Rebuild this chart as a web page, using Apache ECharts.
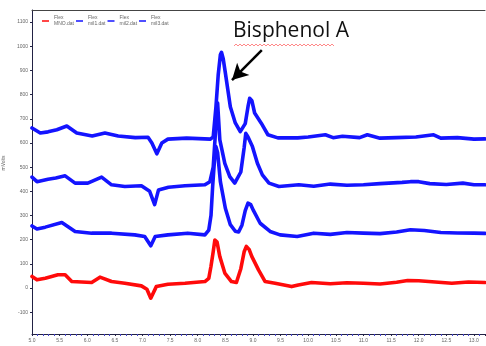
<!DOCTYPE html>
<html><head><meta charset="utf-8">
<script src="https://cdn.jsdelivr.net/npm/echarts@6/dist/echarts.min.js"></script>
<style>html,body{margin:0;padding:0;background:#fff}#c{width:486px;height:346px}</style>
</head><body><div id="c"></div>
<script>
// ---- data (minutes, mVolts) ----
const seriesNames = ['MNO.dat', 'mil1.dat', 'mil2.dat', 'mil3.dat'];
const yTickValues = [-100, 0, 100, 200, 300, 400, 500, 600, 700, 800, 900, 1000, 1100];

// red trace
const xRed = [5.00,5.09,5.24,5.47,5.60,5.72,6.08,6.23,6.44,6.68,6.98,7.08,7.15,7.25,7.46,7.77,8.13,8.20,8.24,8.28,8.31,8.35,8.40,8.49,8.61,8.70,8.78,8.84,8.88,8.93,8.98,9.10,9.22,9.40,9.70,9.82,10.06,10.4,10.7,11.0,11.3,11.6,11.8,12.0,12.3,12.6,12.9,13.2];
const yRed = [48,34,41,55,55,27,23,45,27,20,9,-5,-42,6,16,20,27,40,90,150,199,190,130,62,27,23,80,150,172,160,130,75,27,20,6,13,23,18,22,20,17,24,31,30,25,20,25,23];

// lowest blue trace
const xBlue1 = [5.00,5.09,5.24,5.54,5.78,6.08,6.44,6.86,7.04,7.15,7.23,7.46,7.82,8.13,8.20,8.24,8.27,8.31,8.33,8.36,8.41,8.50,8.59,8.68,8.74,8.80,8.86,8.91,8.96,9.01,9.13,9.31,9.49,9.8,10.1,10.4,10.7,11.0,11.3,11.6,11.85,12.1,12.4,12.7,13.0,13.2];
const yBlue1 = [257,244,252,271,234,227,227,220,213,175,213,220,227,220,240,300,420,550,585,560,440,330,262,235,232,260,320,351,345,320,268,234,220,213,227,222,230,227,225,232,241,238,230,228,227,226];

// middle blue trace
const xBlue2 = [5.00,5.09,5.29,5.43,5.60,5.78,6.01,6.26,6.44,6.68,6.98,7.13,7.22,7.29,7.47,7.77,8.13,8.22,8.28,8.32,8.34,8.36,8.40,8.49,8.58,8.67,8.70,8.78,8.84,8.87,8.91,8.99,9.08,9.17,9.29,9.47,9.83,10.1,10.4,10.7,11.0,11.3,11.7,11.85,12.0,12.2,12.5,12.8,13.0,13.2];
const yBlue2 = [459,440,450,455,464,434,434,459,427,420,423,400,345,406,417,423,427,440,500,640,740,765,613,516,461,434,431,480,580,640,625,585,516,468,434,420,427,421,430,425,427,432,437,440,440,432,428,434,427,427];

// top blue trace
const xBlue3 = [5.00,5.15,5.29,5.45,5.63,5.81,6.09,6.32,6.56,6.87,7.10,7.17,7.26,7.35,7.46,7.80,8.23,8.28,8.33,8.37,8.41,8.43,8.46,8.50,8.59,8.68,8.77,8.80,8.86,8.91,8.94,8.98,9.03,9.15,9.27,9.45,9.81,10.0,10.31,10.45,10.62,10.93,11.07,11.3,11.6,11.95,12.27,12.4,12.7,13.0,13.2];
const yBlue3 = [662,641,646,655,670,641,629,641,629,622,624,600,555,600,616,620,616,625,750,880,965,975,950,890,750,683,647,640,680,750,785,775,724,682,634,621,621,625,634,622,628,622,634,620,622,625,634,620,622,616,617];

const pairs = (xs, ys) => xs.map((x, i) => [x, ys[i]]);

const chart = echarts.init(document.getElementById('c'), null, {renderer: 'canvas'});
const blue = '#1414ff', red = '#ff0a0a';
const lineSeries = (name, data, color, extra) => Object.assign({
  name, type: 'line', data, symbol: 'none', smooth: false,
  lineStyle: {width: 3.6, color, join: 'round', cap: 'round'}, itemStyle: {color}, z: 3
}, extra || {});

// squiggle under "Bisphenol"
const sq = [];
for (let i = 0; i <= 50; i++) sq.push([234 + i * 2, 45 + (i % 2 ? -1 : 1)]);

chart.setOption({
  animation: false,
  backgroundColor: '#fff',
  grid: {left: 32, top: 10, width: 453, height: 324, containLabel: false, outerBoundsMode: 'none'},
  legend: {
    left: 37, top: 10, itemWidth: 7, itemHeight: 1.5, itemGap: 2, icon: 'rect',
    data: seriesNames,
    formatter: n => 'Flex\n' + n,
    textStyle: {fontSize: 5, lineHeight: 6, color: '#666', width: 17, fontFamily: 'Liberation Sans'}
  },
  xAxis: [{
    type: 'value', min: 5, max: 13.2, interval: 0.5,
    name: 'Minutes', nameLocation: 'middle', nameGap: 9,
    nameTextStyle: {fontSize: 5, color: '#666', fontFamily: 'Liberation Sans'},
    axisLine: {onZero: false, lineStyle: {color: '#222244', width: 1}},
    axisTick: {show: true, length: 2, lineStyle: {color: '#222244'}},
    minorTick: {show: true, splitNumber: 5, length: 2, lineStyle: {color: '#4444cc'}},
    axisLabel: {fontSize: 5, color: '#666', margin: 4, fontFamily: 'Liberation Sans',
      formatter: v => v.toFixed(1), showMaxLabel: false},
    splitLine: {show: false}
  }, {
    type: 'value', position: 'top', min: 5, max: 13.2,
    axisLine: {show: true, onZero: false, lineStyle: {color: '#444', width: 1}},
    axisTick: {show: false}, axisLabel: {show: false}, splitLine: {show: false}
  }],
  yAxis: {
    type: 'value', min: -190, max: 1150,
    name: 'mVolts', nameLocation: 'middle', nameGap: 23, nameRotate: 90,
    nameTextStyle: {fontSize: 5, color: '#666', fontFamily: 'Liberation Sans', padding: [0, 0, 0, 18]},
    axisLine: {onZero: false, lineStyle: {color: '#222244', width: 1}},
    axisTick: {show: true, length: 2, customValues: yTickValues, lineStyle: {color: '#222244'}},
    axisLabel: {fontSize: 5, color: '#666', margin: 4, customValues: yTickValues, fontFamily: 'Liberation Sans',
      formatter: v => String(v)},
    splitLine: {show: false}
  },
  series: [
    lineSeries(seriesNames[0], pairs(xRed, yRed), red),
    lineSeries(seriesNames[1], pairs(xBlue1, yBlue1), blue),
    lineSeries(seriesNames[2], pairs(xBlue2, yBlue2), blue),
    lineSeries(seriesNames[3], pairs(xBlue3, yBlue3), blue, {
      markLine: {
        silent: true, animation: false, symbol: ['none', 'arrow'], symbolSize: [13, 16],
        label: {show: false},
        lineStyle: {color: '#000', width: 2.5, type: 'solid'},
        data: [[{coord: [9.16, 984]}, {coord: [8.62, 860]}]]
      }
    })
  ],
  graphic: [
    {type: 'text', left: 233, top: 21, z: 10,
     style: {text: 'Bisphenol A', font: '21px "Open Sans"', fill: '#111'}},
    {type: 'polyline', z: 10, shape: {points: sq},
     style: {stroke: '#ff6b6b', lineWidth: 0.8, fill: null}}
  ]
});
</script>
</body></html>
